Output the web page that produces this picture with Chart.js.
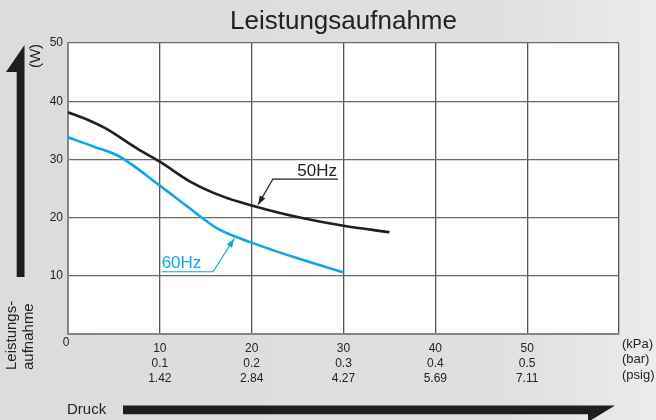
<!DOCTYPE html>
<html>
<head>
<meta charset="utf-8">
<script src="https://cdn.jsdelivr.net/npm/chart.js@4.4.1/dist/chart.umd.min.js"></script>
<style>
  html, body { margin: 0; padding: 0; background: #dcdcdc; }
  #wrap { width: 656px; height: 420px; position: relative; }
</style>
</head>
<body>
<div id="wrap"><canvas id="c" width="656" height="420"></canvas></div>
<script>
// ---- data ----
const titleText = 'Leistungsaufnahme';
const pressure50 = [0, 2, 4, 7.8, 10, 13.3, 16.9, 20, 25, 30, 35];        // kPa
const power50    = [38.1, 36.9, 35.4, 31.6, 29.6, 26.2, 23.6, 22.1, 20.1, 18.6, 17.5]; // W
const pressure60 = [0, 2.8, 5.6, 10, 13, 16.3, 20, 25, 30];               // kPa
const power60    = [33.8, 32.2, 30.5, 25.5, 21.9, 18.1, 15.7, 13.0, 10.6]; // W
const kPaTicks   = [10, 20, 30, 40, 50];
const barTicks   = ['0.1', '0.2', '0.3', '0.4', '0.5'];
const psigTicks  = ['1.42', '2.84', '4.27', '5.69', '7.11'];
const wattTicks  = [10, 20, 30, 40, 50];
const unitLabels = ['(kPa)', '(bar)', '(psig)'];
const seriesNames = ['50Hz', '60Hz'];
// annotation anchors in data units: [tipX, tipY, lineStartX, lineEndX, lineY]
const label50 = [20.7, 22.2, 22.3, 29.4, 26.6];
const label60 = [18.1, 16.4, 15.8, 10.2, 10.7];

const FONT = "'Liberation Sans', Arial, Helvetica, sans-serif";
const BLACK = '#231f20';
const BLUE = '#12a5e6';

const decor = {
  id: 'decor',
  beforeDraw(chart) {
    const ctx = chart.ctx, a = chart.chartArea;
    ctx.save();
    const g = ctx.createLinearGradient(0, 0, chart.width, 0);
    g.addColorStop(0, '#dcdcdc');
    g.addColorStop(0.75, '#dedfe0');
    g.addColorStop(0.92, '#e6e7e8');
    g.addColorStop(1, '#ececec');
    ctx.fillStyle = g;
    ctx.fillRect(0, 0, chart.width, chart.height);
    ctx.fillStyle = '#ffffff';
    ctx.fillRect(a.left, a.top, a.right - a.left, a.bottom - a.top);
    ctx.restore();
  },
  afterDraw(chart) {
    const ctx = chart.ctx, a = chart.chartArea;
    const xs = chart.scales.x, ys = chart.scales.y;
    ctx.save();
    // vertical arrow
    ctx.fillStyle = '#1e1e1e';
    ctx.beginPath();
    ctx.moveTo(24.5, 45);
    ctx.lineTo(6, 72);
    ctx.lineTo(16.7, 72);
    ctx.lineTo(16.7, 277);
    ctx.lineTo(24.5, 277);
    ctx.closePath();
    ctx.fill();
    // horizontal arrow
    ctx.beginPath();
    ctx.moveTo(123, 405.5);
    ctx.lineTo(615, 405.5);
    ctx.lineTo(588, 422);
    ctx.lineTo(588, 414.3);
    ctx.lineTo(123, 414.3);
    ctx.closePath();
    ctx.fill();

    ctx.fillStyle = '#222';
    // "0" at origin
    ctx.font = '12px ' + FONT;
    ctx.textAlign = 'center';
    ctx.textBaseline = 'middle';
    ctx.fillText('0', xs.getPixelForValue(0) - 2, ys.getPixelForValue(0) + 9);
    // units
    ctx.font = '13px ' + FONT;
    ctx.textAlign = 'left';
    unitLabels.forEach((u, i) => ctx.fillText(u, a.right + 3, ys.getPixelForValue(0) + 10 + i * 15.5));
    // (W)
    ctx.font = '15px ' + FONT;
    ctx.save();
    ctx.translate(36, 56);
    ctx.rotate(-Math.PI / 2);
    ctx.textAlign = 'center';
    ctx.fillText('(W)', 0, 0);
    ctx.restore();
    // Leistungs- aufnahme
    ctx.save();
    ctx.translate(12, 370);
    ctx.rotate(-Math.PI / 2);
    ctx.textAlign = 'left';
    ctx.fillText('Leistungs-', 0, 0);
    ctx.fillText('aufnahme', 0, 16.5);
    ctx.restore();
    // Druck
    ctx.font = '15px ' + FONT;
    ctx.textAlign = 'left';
    ctx.fillText('Druck', 67, 409.5);
    ctx.restore();
  },
  afterDatasetsDraw(chart) {
    const ctx = chart.ctx;
    const xs = chart.scales.x, ys = chart.scales.y;
    function callout(spec, text, color, textLeft) {
      const tx = xs.getPixelForValue(spec[0]), ty = ys.getPixelForValue(spec[1]);
      const sx = xs.getPixelForValue(spec[2]), ex = xs.getPixelForValue(spec[3]);
      const ly = ys.getPixelForValue(spec[4]);
      ctx.save();
      ctx.strokeStyle = color;
      ctx.fillStyle = color;
      ctx.lineWidth = 1.2;
      ctx.beginPath();
      ctx.moveTo(ex, ly);
      ctx.lineTo(sx, ly);
      ctx.lineTo(tx, ty);
      ctx.stroke();
      // arrow head
      const ang = Math.atan2(ty - ly, tx - sx);
      const L = 9, W = 3.2;
      const bx = tx - L * Math.cos(ang), by = ty - L * Math.sin(ang);
      ctx.beginPath();
      ctx.moveTo(tx, ty);
      ctx.lineTo(bx + W * Math.sin(ang), by - W * Math.cos(ang));
      ctx.lineTo(bx - W * Math.sin(ang), by + W * Math.cos(ang));
      ctx.closePath();
      ctx.fill();
      ctx.font = '17px ' + FONT;
      ctx.textBaseline = 'alphabetic';
      ctx.textAlign = textLeft ? 'left' : 'right';
      const x0 = textLeft ? Math.min(sx, ex) : Math.max(sx, ex) - 1;
      ctx.fillText(text, x0, ly - 3.5);
      ctx.restore();
    }
    callout(label50, seriesNames[0], '#222', false);
    callout(label60, seriesNames[1], BLUE, true);
  }
};

const toPts = (xs, ys) => xs.map((x, i) => ({ x: x, y: ys[i] }));

new Chart(document.getElementById('c'), {
  type: 'line',
  data: {
    datasets: [
      { label: seriesNames[0], data: toPts(pressure50, power50), borderColor: BLACK, borderWidth: 2.6,
        pointRadius: 0, cubicInterpolationMode: 'monotone', fill: false },
      { label: seriesNames[1], data: toPts(pressure60, power60), borderColor: BLUE, borderWidth: 2.6,
        pointRadius: 0, cubicInterpolationMode: 'monotone', fill: false }
    ]
  },
  options: {
    responsive: false,
    animation: false,
    devicePixelRatio: 1,
    layout: { padding: { left: 0, right: 37, top: 0, bottom: 0 } },
    plugins: {
      legend: { display: false },
      tooltip: { enabled: false },
      title: {
        display: true, text: titleText, fullSize: false, color: '#222',
        font: { family: FONT, size: 26, weight: 'normal' },
        padding: { top: 6, bottom: 5.8 }
      }
    },
    scales: {
      x: {
        type: 'linear', min: 0, max: 60,
        afterBuildTicks: s => { s.ticks = [0, 10, 20, 30, 40, 50, 60].map(v => ({ value: v })); },
        afterFit: s => { s.height = 86; },
        grid: { color: '#555555', lineWidth: 1.3, drawTicks: false },
        border: { color: '#858585', width: 2 },
        ticks: {
          padding: 7, color: '#222', maxRotation: 0, autoSkip: false,
          font: { family: FONT, size: 12, lineHeight: 1.25 },
          callback: v => {
            const i = kPaTicks.indexOf(v);
            return i < 0 ? '' : [String(kPaTicks[i]), barTicks[i], psigTicks[i]];
          }
        }
      },
      y: {
        type: 'linear', min: 0, max: 50,
        afterBuildTicks: s => { s.ticks = [0].concat(wattTicks).map(v => ({ value: v })); },
        afterFit: s => { s.width = 68; },
        grid: { color: '#6a6a6a', lineWidth: 1.3, drawTicks: false },
        border: { color: '#858585', width: 2 },
        ticks: {
          padding: 5, color: '#222',
          font: { family: FONT, size: 12 },
          callback: v => (wattTicks.indexOf(v) < 0 ? '' : String(v))
        }
      }
    }
  },
  plugins: [decor]
});
</script>
</body>
</html>
